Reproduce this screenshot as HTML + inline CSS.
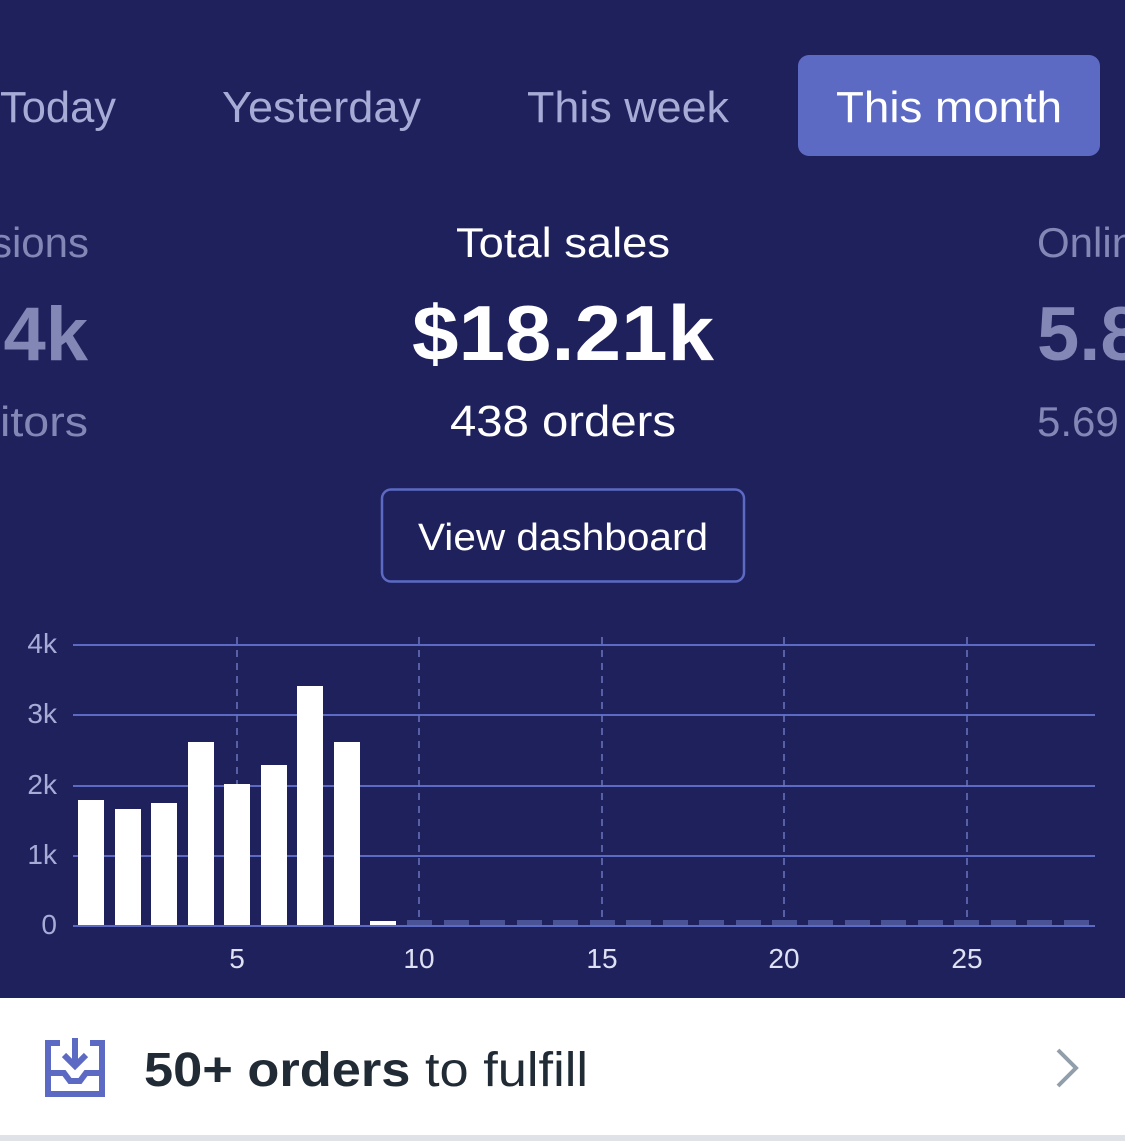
<!DOCTYPE html>
<html><head><meta charset="utf-8"><style>
html,body{margin:0;padding:0;background:#1f215d;}
svg{display:block;font-family:"Liberation Sans",sans-serif;}
</style></head><body>
<svg width="1125" height="1141" viewBox="0 0 1125 1141" xmlns="http://www.w3.org/2000/svg">
<rect width="1125" height="1141" fill="#1f215d"/>
<!-- tabs -->
<rect x="798" y="55" width="302" height="101" rx="11" fill="#5c6ac4"/>
<g font-size="44" fill="#a6acd6">
<text x="0" y="122" textLength="116" lengthAdjust="spacingAndGlyphs">Today</text>
<text x="222" y="122" textLength="199" lengthAdjust="spacingAndGlyphs">Yesterday</text>
<text x="527" y="122" textLength="202" lengthAdjust="spacingAndGlyphs">This week</text>
</g>
<text x="836" y="122" font-size="44" fill="#fff" textLength="226" lengthAdjust="spacingAndGlyphs">This month</text>
<!-- stats -->
<g fill="#8387b5">
<text x="89" y="257" font-size="42" text-anchor="end">sions</text>
<text x="88" y="360" font-size="76" font-weight="bold" text-anchor="end">4k</text>
<text x="0" y="436" font-size="42" textLength="88" lengthAdjust="spacingAndGlyphs">itors</text>
<text x="1037" y="257" font-size="42">Onlin</text>
<text x="1037" y="360" font-size="76" font-weight="bold">5.8</text>
<text x="1037" y="436" font-size="42">5.69</text>
</g>
<text x="563" y="257" font-size="42" fill="#fff" text-anchor="middle" textLength="214" lengthAdjust="spacingAndGlyphs">Total sales</text>
<text x="563" y="360" font-size="78" font-weight="bold" fill="#fff" text-anchor="middle" textLength="302" lengthAdjust="spacingAndGlyphs">$18.21k</text>
<text x="563" y="436" font-size="44" fill="#fff" text-anchor="middle" textLength="226" lengthAdjust="spacingAndGlyphs">438 orders</text>
<!-- button -->
<rect x="382" y="489.5" width="362" height="92" rx="9" fill="none" stroke="#5c6ac4" stroke-width="2.5"/>
<text x="563" y="550" font-size="38" fill="#fff" text-anchor="middle" textLength="290" lengthAdjust="spacingAndGlyphs">View dashboard</text>
<!-- chart grid -->
<g stroke="#5c6ac4" stroke-width="2">
<line x1="73" y1="645" x2="1095" y2="645"/>
<line x1="73" y1="715" x2="1095" y2="715"/>
<line x1="73" y1="786" x2="1095" y2="786"/>
<line x1="73" y1="856" x2="1095" y2="856"/>
<line x1="73" y1="926" x2="1095" y2="926"/>
</g>
<g stroke="#6a74c0" stroke-width="1.5" stroke-dasharray="7 6">
<line x1="237" y1="637" x2="237" y2="922"/>
<line x1="419" y1="637" x2="419" y2="922"/>
<line x1="602" y1="637" x2="602" y2="922"/>
<line x1="784" y1="637" x2="784" y2="922"/>
<line x1="967" y1="637" x2="967" y2="922"/>
</g>
<g fill="#a6acd6" font-size="28">
<text x="57" y="653" text-anchor="end">4k</text>
<text x="57" y="723" text-anchor="end">3k</text>
<text x="57" y="794" text-anchor="end">2k</text>
<text x="57" y="864" text-anchor="end">1k</text>
<text x="57" y="934" text-anchor="end">0</text>
</g>
<g fill="#dfe1f2" font-size="28" text-anchor="middle">
<text x="237" y="968">5</text>
<text x="419" y="968">10</text>
<text x="602" y="968">15</text>
<text x="784" y="968">20</text>
<text x="967" y="968">25</text>
</g>
<!-- bars -->
<g fill="#fff">
<rect x="78" y="800" width="26" height="125"/>
<rect x="115" y="809" width="26" height="116"/>
<rect x="151" y="803" width="26" height="122"/>
<rect x="188" y="742" width="26" height="183"/>
<rect x="224" y="784" width="26" height="141"/>
<rect x="261" y="765" width="26" height="160"/>
<rect x="297" y="686" width="26" height="239"/>
<rect x="334" y="742" width="26" height="183"/>
<rect x="370" y="921" width="26" height="4"/>
</g>
<g fill="#4a5395">
<rect x="407" y="920" width="25" height="5"/><rect x="444" y="920" width="25" height="5"/><rect x="480" y="920" width="25" height="5"/><rect x="517" y="920" width="25" height="5"/><rect x="553" y="920" width="25" height="5"/><rect x="590" y="920" width="25" height="5"/><rect x="626" y="920" width="25" height="5"/><rect x="663" y="920" width="25" height="5"/><rect x="699" y="920" width="25" height="5"/><rect x="736" y="920" width="25" height="5"/><rect x="772" y="920" width="25" height="5"/><rect x="808" y="920" width="25" height="5"/><rect x="845" y="920" width="25" height="5"/><rect x="881" y="920" width="25" height="5"/><rect x="918" y="920" width="25" height="5"/><rect x="954" y="920" width="25" height="5"/><rect x="991" y="920" width="25" height="5"/><rect x="1027" y="920" width="25" height="5"/><rect x="1064" y="920" width="25" height="5"/>
</g>
<!-- footer -->
<rect x="0" y="998" width="1125" height="143" fill="#fff"/>
<rect x="0" y="1135" width="1125" height="6" fill="#dfe3e8"/>
<g fill="none" stroke="#5c6ac4" stroke-width="6">
<path d="M60 1043 H48 V1094 H102 V1043 H90"/>
<path d="M48 1073 H64 L70 1081 H80 L86 1073 H102"/>
<path d="M75 1038 V1065 M64 1055 L75 1066 L86 1055"/>
</g>
<text x="144" y="1086" font-size="48" fill="#212b36" textLength="444" lengthAdjust="spacingAndGlyphs"><tspan font-weight="bold">50+ orders</tspan> to fulfill</text>
<path d="M1058 1050 L1076 1068 L1058 1086" fill="none" stroke="#919eab" stroke-width="4"/>
</svg>
</body></html>
